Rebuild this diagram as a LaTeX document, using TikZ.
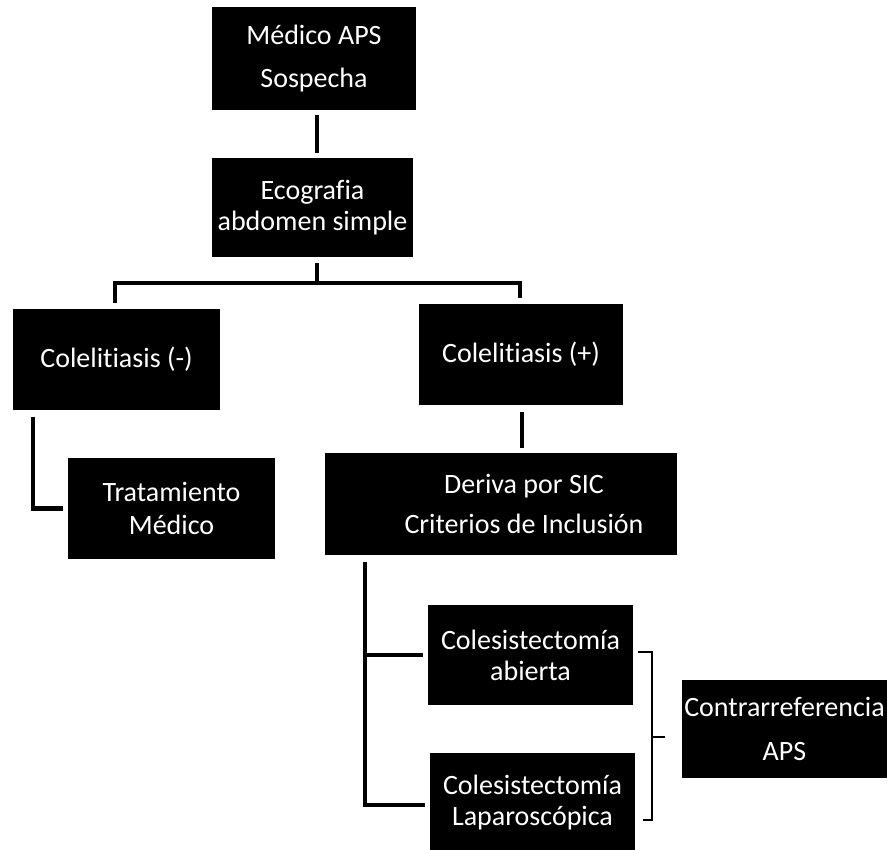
\documentclass[tikz,border=0pt]{standalone}
\usepackage{fontspec}
\setmainfont{Carlito}[Ligatures=NoCommon]
\begin{document}
\begin{tikzpicture}[x=1pt,y=-1pt,
  box/.style={rectangle, fill=black, draw=none, text=white, align=center,
    inner sep=0pt, minimum width=#1},
  box/.default=205pt,
  tight/.style={font=\fontsize{28}{31}\selectfont},
  link/.style={line width=4.5pt},
  brace/.style={line width=1.4pt}]
\useasboundingbox (0,0) rectangle (894,849);

% boxes
\node[box=204pt, minimum height=103pt, font=\fontsize{28}{43}\selectfont] (b1) at (314,58.5) {Médico APS\\Sospecha};
\node[box=201pt, minimum height=99pt, tight] (b2) at (312.5,207.5) {Ecografia\\abdomen simple};
\node[box=207pt, minimum height=101pt, tight] (cneg) at (116.5,359.5) {Colelitiasis (-)};
\node[box=204pt, minimum height=101pt, tight] (cpos) at (521,354.5) {Colelitiasis (+)};
\node[box=207pt, minimum height=101pt, font=\fontsize{28}{33}\selectfont] (trat) at (171.5,508.5) {Tratamiento\\Médico};
\node[box=352pt, minimum height=102pt, font=\fontsize{28}{40}\selectfont] (der) at (501,504)
  {\hspace*{46pt}Deriva por SIC\\\hspace*{46pt}Criterios de Inclusión};
\node[box=205pt, minimum height=100pt, tight] (ab) at (530.5,655) {Colesistectomía\\abierta};
\node[box=205pt, minimum height=100pt, tight] (lap) at (532.5,803) {Colesistectomía\\Laparoscópica};
\node[box=205pt, minimum height=98pt, font=\fontsize{28}{44}\selectfont] (con) at (784.5,729) {Contrarreferencia\\APS};

% connectors
\coordinate (j) at (317,283);
\draw[link] ([yshift=-5pt]b1.south -| j) -- ([yshift=5pt]b2.north -| j);
\draw[link] ([yshift=-6pt]b2.south -| j) -- (j);
\draw[link] ([xshift=-1.5pt,yshift=6pt]cneg.north) |- (j) -| ([xshift=-1pt,yshift=6pt]cpos.north);
\draw[link] ([xshift=1pt,yshift=-7pt]cpos.south) -- ([xshift=1pt,yshift=5pt]cpos.south |- der.north);
\draw[link] ([xshift=20pt,yshift=-7pt]cneg.south west) |- ([xshift=-5pt]trat.west);
\draw[link] ([xshift=40pt,yshift=-7pt]der.south west) |- ([xshift=-5pt]ab.west);
\draw[link] ([xshift=40pt,yshift=-7pt]der.south west) |- ([xshift=-5pt,yshift=-2pt]lap.west);

% bracket joining both surgeries to the counter-referral
\coordinate (bt) at (652,652);
\coordinate (bb) at (652,820);
\coordinate (bm) at (652,737);
\draw[brace] ([xshift=5pt]ab.east |- bt) -- (bt) -- (bb) -- ([xshift=8pt]lap.east |- bb);
\draw[brace] (bm) -- ([xshift=-17pt]con.west |- bm);
\end{tikzpicture}
\end{document}
